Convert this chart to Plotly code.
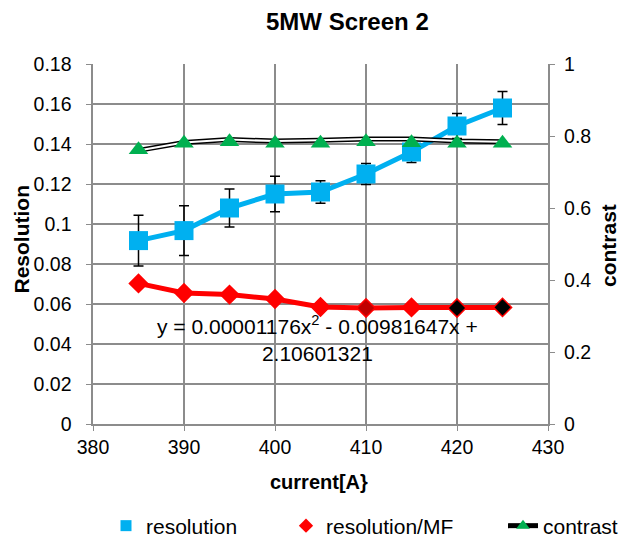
import plotly.graph_objects as go

current = [385, 390, 395, 400, 405, 410, 415, 420, 425]
resolution = [0.0917, 0.0967, 0.108, 0.115, 0.116, 0.125, 0.136, 0.149, 0.158]
resolution_err = [0.0127, 0.0124, 0.0095, 0.0089, 0.0056, 0.0052, 0.0052, 0.0062, 0.0083]
resolution_mf = [0.0703, 0.0655, 0.0647, 0.0625, 0.0585, 0.0580, 0.0583, 0.0580, 0.0583]
mf_fill = ["#FF0000"] * 5 + ["#C00000", "#FF0000", "#000000", "#000000"]
contrast = [0.760, 0.782, 0.790, 0.786, 0.788, 0.792, 0.792, 0.786, 0.784]
contrast_marker = [0.762, 0.780, 0.784, 0.780, 0.780, 0.784, 0.781, 0.780, 0.780]

trend_text = "y = 0.00001176x<sup>2</sup> - 0.00981647x +<br>2.10601321"

FONT = "Liberation Sans, Arial, sans-serif"
L, R, T, B = 93, 73, 64, 116
PW, PH = 621 - L - R, 540 - T - B


def px(x):
    return (x - L) / PW


def py(y):
    return (540 - B - y) / PH


fig = go.Figure()

fig.add_trace(go.Scatter(
    x=current, y=resolution, mode="lines+markers", name="resolution", showlegend=False,
    line=dict(color="#00B0F0", width=5),
    marker=dict(symbol="square", size=19, color="#00B0F0"),
    error_y=dict(type="data", array=resolution_err, color="black", thickness=1.5, width=5),
))
fig.add_trace(go.Scatter(
    x=current, y=resolution_mf, mode="lines+markers", name="resolution/MF", showlegend=False,
    line=dict(color="#FF0000", width=5),
    marker=dict(symbol="diamond", size=14, color=mf_fill, line=dict(color="#FF0000", width=1.5)),
))
fig.add_trace(go.Scatter(
    x=current, y=contrast, mode="lines", name="contrast", yaxis="y2",
    line=dict(color="black", width=5), showlegend=False,
))
fig.add_trace(go.Scatter(
    x=current, y=contrast, mode="lines", name="contrast", yaxis="y2",
    line=dict(color="white", width=2), showlegend=False,
))
fig.add_trace(go.Scatter(
    x=current, y=contrast_marker, mode="markers", name="contrast", yaxis="y2",
    marker=dict(symbol="triangle-up", size=17, color="#00B050"), showlegend=False,
))
# legend entries
fig.add_trace(go.Scatter(
    x=[None], y=[None], mode="markers", name="resolution", legend="legend",
    marker=dict(symbol="square", size=11, color="#00B0F0"),
))
fig.add_trace(go.Scatter(
    x=[None], y=[None], mode="markers", name="resolution/MF", legend="legend2",
    marker=dict(symbol="diamond", size=11, color="#FF0000"),
))
fig.add_trace(go.Scatter(
    x=[None], y=[None], mode="lines+markers", name="contrast", yaxis="y2", legend="legend3",
    line=dict(color="black", width=5),
    marker=dict(symbol="triangle-up", size=12, color="#00B050"),
))

grid = "#8C8C8C"
leg = dict(orientation="h", y=py(526), xanchor="left", yanchor="middle",
           font=dict(size=21, family=FONT), bgcolor="rgba(0,0,0,0)")
ann = dict(xref="paper", yref="paper", showarrow=False, xanchor="center", yanchor="middle")
fig.update_layout(
    width=621, height=540,
    margin=dict(l=L, r=R, t=T, b=B, autoexpand=False),
    paper_bgcolor="white", plot_bgcolor="white",
    font=dict(family=FONT, size=19.5, color="black"),
    showlegend=True,
    legend=dict(leg, x=px(106)),
    legend2=dict(leg, x=px(286)),
    legend3=dict(leg, x=px(503)),
    xaxis=dict(range=[380, 430], dtick=10, tick0=380, showgrid=True, gridcolor=grid, gridwidth=1.5,
               showline=True, linecolor=grid, linewidth=1.5, ticks="outside", ticklen=5,
               tickcolor=grid, zeroline=False),
    yaxis=dict(range=[0, 0.18], dtick=0.02, showgrid=True, gridcolor=grid, gridwidth=1.5,
               showline=True, linecolor=grid, linewidth=1.5, ticks="outside", ticklen=5,
               tickcolor=grid, zeroline=False, ticksuffix="  "),
    yaxis2=dict(range=[0, 1], dtick=0.2, overlaying="y", side="right", showgrid=False,
                showline=True, linecolor=grid, linewidth=1.5, ticks="outside", ticklen=5,
                tickcolor=grid, zeroline=False, tickprefix=" "),
    annotations=[
        dict(ann, text="<b>5MW Screen 2</b>", x=px(347), y=py(22), font=dict(size=24)),
        dict(ann, text="<b>current[A}</b>", x=px(319), y=py(482), font=dict(size=20)),
        dict(ann, text="<b>Resolution</b>", x=px(20.5), y=py(239), textangle=-90, font=dict(size=21)),
        dict(ann, text="<b>contrast</b>", x=px(608), y=py(246), textangle=-90, font=dict(size=21)),
        dict(ann, text=trend_text, x=px(317), y=py(338), font=dict(size=21), align="center"),
    ],
)

fig.write_html("out.html")
